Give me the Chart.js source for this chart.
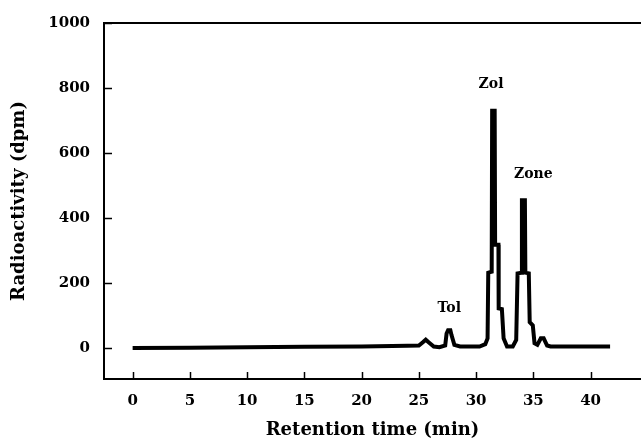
<!DOCTYPE html>
<html>
<head>
<meta charset="utf-8">
<script src="https://cdn.jsdelivr.net/npm/chart.js@4"></script>
<style>
  body { margin: 0; background: #fff; }
</style>
</head>
<body>
<canvas id="myChart" width="641" height="441"></canvas>
<script>
// retention time (min) and radioactivity (dpm)
var tiempo = [0, 5, 10, 15, 20, 24, 25, 25.35, 25.6, 25.85, 26.3, 26.8, 27.3, 27.42, 27.55, 27.75, 27.85, 28.1, 28.6,
  30.3, 30.8, 31.0, 31.06, 31.36, 31.4, 31.62, 31.66, 31.95, 31.97, 32.25, 32.4, 32.7, 33.2, 33.5, 33.62,
  33.96, 34.0, 34.26, 34.3, 34.6, 34.68, 34.95, 35.1, 35.35, 35.65, 35.9, 36.2, 36.5, 41.7];
var dpm = [0, 1, 3, 4, 5, 7, 8, 18, 26, 18, 5, 3, 8, 45, 55, 55, 40, 10, 5,
  5, 12, 30, 232, 235, 730, 730, 318, 318, 122, 120, 30, 5, 5, 25, 230,
  232, 455, 455, 232, 230, 80, 70, 15, 10, 30, 30, 8, 5, 5];

var xTicks = [0, 5, 10, 15, 20, 25, 30, 35, 40];
var yTicks = [0, 200, 400, 600, 800, 1000];

var picos = ['Tol', 'Zol', 'Zone'];
var picosX = [27.65, 31.3, 35.0];
var picosY = [122, 810, 535];

var puntos = [];
for (var i = 0; i < tiempo.length; i++) {
  puntos.push({ x: tiempo[i], y: dpm[i] });
}

var fuente = 'DejaVu Serif';

// top border, inward ticks and peak names
const extras = {
  id: 'extras',
  afterDraw(chart) {
    const ctx = chart.ctx;
    const a = chart.chartArea;
    const sx = chart.scales.x;
    const sy = chart.scales.y;
    ctx.save();
    ctx.strokeStyle = '#000';
    ctx.lineWidth = 2;
    ctx.beginPath();
    ctx.moveTo(a.left - 1, a.top);
    ctx.lineTo(a.right, a.top);
    ctx.stroke();
    ctx.lineWidth = 1.5;
    for (var i = 0; i < xTicks.length; i++) {
      var px = Math.round(sx.getPixelForValue(xTicks[i])) + 0.5;
      ctx.beginPath();
      ctx.moveTo(px, a.bottom);
      ctx.lineTo(px, a.bottom - 7);
      ctx.stroke();
    }
    for (var j = 0; j < yTicks.length; j++) {
      var py = Math.round(sy.getPixelForValue(yTicks[j])) + 0.5;
      ctx.beginPath();
      ctx.moveTo(a.left, py);
      ctx.lineTo(a.left + 8, py);
      ctx.stroke();
    }
    ctx.fillStyle = '#000';
    ctx.font = 'bold 14px "' + fuente + '"';
    ctx.textAlign = 'center';
    ctx.textBaseline = 'middle';
    for (var k = 0; k < picos.length; k++) {
      ctx.fillText(picos[k], sx.getPixelForValue(picosX[k]), sy.getPixelForValue(picosY[k]));
    }
    ctx.restore();
  }
};

const ctx = document.getElementById('myChart').getContext('2d');
const myChart = new Chart(ctx, {
  type: 'line',
  data: {
    datasets: [{
      data: puntos,
      borderColor: '#000',
      borderWidth: 4,
      pointRadius: 0,
      tension: 0,
      fill: false
    }]
  },
  options: {
    responsive: false,
    animation: false,
    layout: { padding: { top: 20, right: 0, left: 0, bottom: 0 } },
    plugins: {
      legend: { display: false },
      tooltip: { enabled: false }
    },
    scales: {
      x: {
        type: 'linear',
        min: -2.5,
        max: 44.4,
        afterFit: function (s) { s.height = 62; },
        afterBuildTicks: function (s) { s.ticks = xTicks.map(function (v) { return { value: v }; }); },
        grid: { display: false, drawTicks: false },
        border: { display: true, color: '#000', width: 2 },
        ticks: {
          color: '#000',
          padding: 13,
          maxRotation: 0,
          callback: function (v) { return String(v); },
          font: { family: fuente, size: 15, weight: 'bold' }
        },
        title: {
          display: true,
          text: 'Retention time (min)',
          color: '#000',
          padding: { top: 12, bottom: 0 },
          font: { family: fuente, size: 18, weight: 'bold' }
        }
      },
      y: {
        min: -95,
        max: 1000,
        afterFit: function (s) { s.width = 104; },
        afterBuildTicks: function (s) { s.ticks = yTicks.map(function (v) { return { value: v }; }); },
        grid: { display: false, drawTicks: false },
        border: { display: true, color: '#000', width: 2 },
        ticks: {
          color: '#000',
          padding: 14,
          callback: function (v) { return String(v); },
          font: { family: fuente, size: 15, weight: 'bold' }
        },
        title: {
          display: true,
          text: 'Radioactivity (dpm)',
          color: '#000',
          padding: { top: 9, bottom: 0 },
          font: { family: fuente, size: 18, weight: 'bold' }
        }
      }
    }
  },
  plugins: [extras]
});
</script>
</body>
</html>
